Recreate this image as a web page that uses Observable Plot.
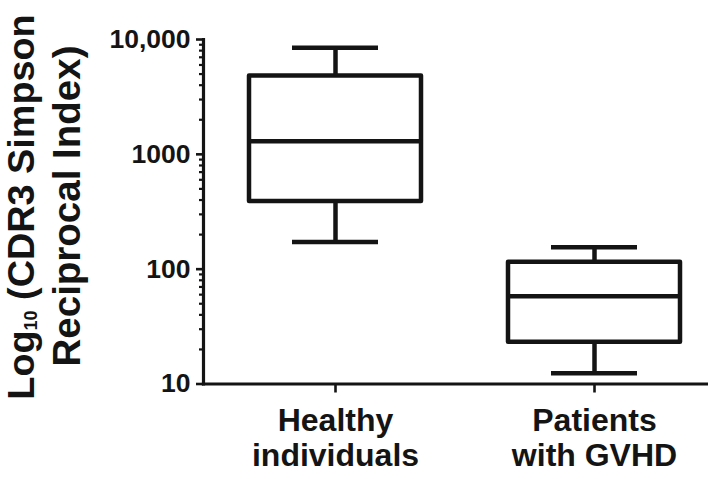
<!DOCTYPE html>
<html>
<head>
<meta charset="utf-8">
<script src="https://cdn.jsdelivr.net/npm/d3@7"></script>
<script src="https://cdn.jsdelivr.net/npm/@observablehq/plot@0.6"></script>
<style>
  html, body { margin: 0; padding: 0; background: #fff; }
  #chart { width: 708px; height: 479px; }
  svg { font-family: "Liberation Sans", Arial, sans-serif; font-weight: bold; }
</style>
</head>
<body>
<div id="chart"></div>
<script>
// Data
const categories = ["Healthy individuals", "Patients with GVHD"];
const categoryLabels = ["Healthy\nindividuals", "Patients\nwith GVHD"];
const whiskerMin = [172, 12.4];
const q1 = [389, 23.1];
const median = [1303, 58.2];
const q3 = [4800, 115];
const whiskerMax = [8490, 155.5];
const yTicks = [10, 100, 1000, 10000];
const yTickLabels = ["10", "100", "1000", "10,000"];

const boxes = categories.map((c, i) => ({
  cat: c, label: categoryLabels[i],
  min: whiskerMin[i], q1: q1[i], med: median[i], q3: q3[i], max: whiskerMax[i]
}));

const minorTicks = [10, 100, 1000].flatMap(d => [2,3,4,5,6,7,8,9].map(k => k * d));

const ink = "#141414";
const lw = 4.5;
const plot = Plot.plot({
  width: 708,
  height: 479,
  marginLeft: 203,
  marginRight: 0,
  marginTop: 39,
  marginBottom: 95.5,
  style: { fontFamily: "Liberation Sans, Arial, sans-serif", fontWeight: "bold", color: ink, background: "#fff" },
  x: { type: "band", domain: categories, range: [249, 680.3], paddingInner: 0.3367, paddingOuter: 0, axis: null },
  y: { type: "log", domain: [10, 10000], axis: null },
  marks: [
    // whiskers
    Plot.ruleX(boxes, { x: "cat", y1: "min", y2: "q1", stroke: ink, strokeWidth: lw }),
    Plot.ruleX(boxes, { x: "cat", y1: "q3", y2: "max", stroke: ink, strokeWidth: lw }),
    // caps
    Plot.tickY(boxes, { x: "cat", y: "min", stroke: ink, strokeWidth: lw, insetLeft: 43, insetRight: 43 }),
    Plot.tickY(boxes, { x: "cat", y: "max", stroke: ink, strokeWidth: lw, insetLeft: 43, insetRight: 43 }),
    // box
    Plot.barY(boxes, { x: "cat", y1: "q1", y2: "q3", fill: "white", stroke: ink, strokeWidth: lw, strokeLinejoin: "round" }),
    // median
    Plot.tickY(boxes, { x: "cat", y: "med", stroke: ink, strokeWidth: lw }),
    // axes lines
    Plot.frame({ anchor: "left", stroke: ink, strokeWidth: 3.2 }),
    Plot.frame({ anchor: "bottom", stroke: ink, strokeWidth: 3.2 }),
    // y ticks
    Plot.axisY(minorTicks, { tickSize: 4, tickFormat: () => "", strokeWidth: 2.2, stroke: ink }),
    Plot.axisY(yTicks, { tickSize: 7, tickPadding: 6, tickFormat: d => yTickLabels[yTicks.indexOf(d)], fontSize: 26.5, strokeWidth: 2.6, stroke: ink, fill: ink, label: null }),
    // x ticks
    Plot.axisX(categories, { tickSize: 9, tickFormat: () => "", strokeWidth: 2.6, stroke: ink, label: null }),
    // x labels
    Plot.text(boxes, { x: "cat", text: "label", frameAnchor: "bottom", lineAnchor: "top", dy: 21.5, fontSize: 32, lineHeight: 1.11, fill: ink, fontWeight: "bold" })
  ]
});

const svg = d3.select(plot);
const t1 = svg.append("text")
  .attr("transform", "translate(34,207) rotate(-90)")
  .attr("text-anchor", "middle")
  .attr("font-size", 37.8)
  .attr("font-weight", "bold")
  .attr("fill", ink);
t1.append("tspan").text("Log");
t1.append("tspan").attr("font-size", 18).attr("dy", 3).text("10");
t1.append("tspan").attr("dy", -3).text(" (CDR3 Simpson");

svg.append("text")
  .attr("transform", "translate(80,206) rotate(-90)")
  .attr("text-anchor", "middle")
  .attr("font-size", 38.5)
  .attr("font-weight", "bold")
  .attr("fill", ink)
  .text("Reciprocal Index)");

document.getElementById("chart").appendChild(plot);
</script>
</body>
</html>
